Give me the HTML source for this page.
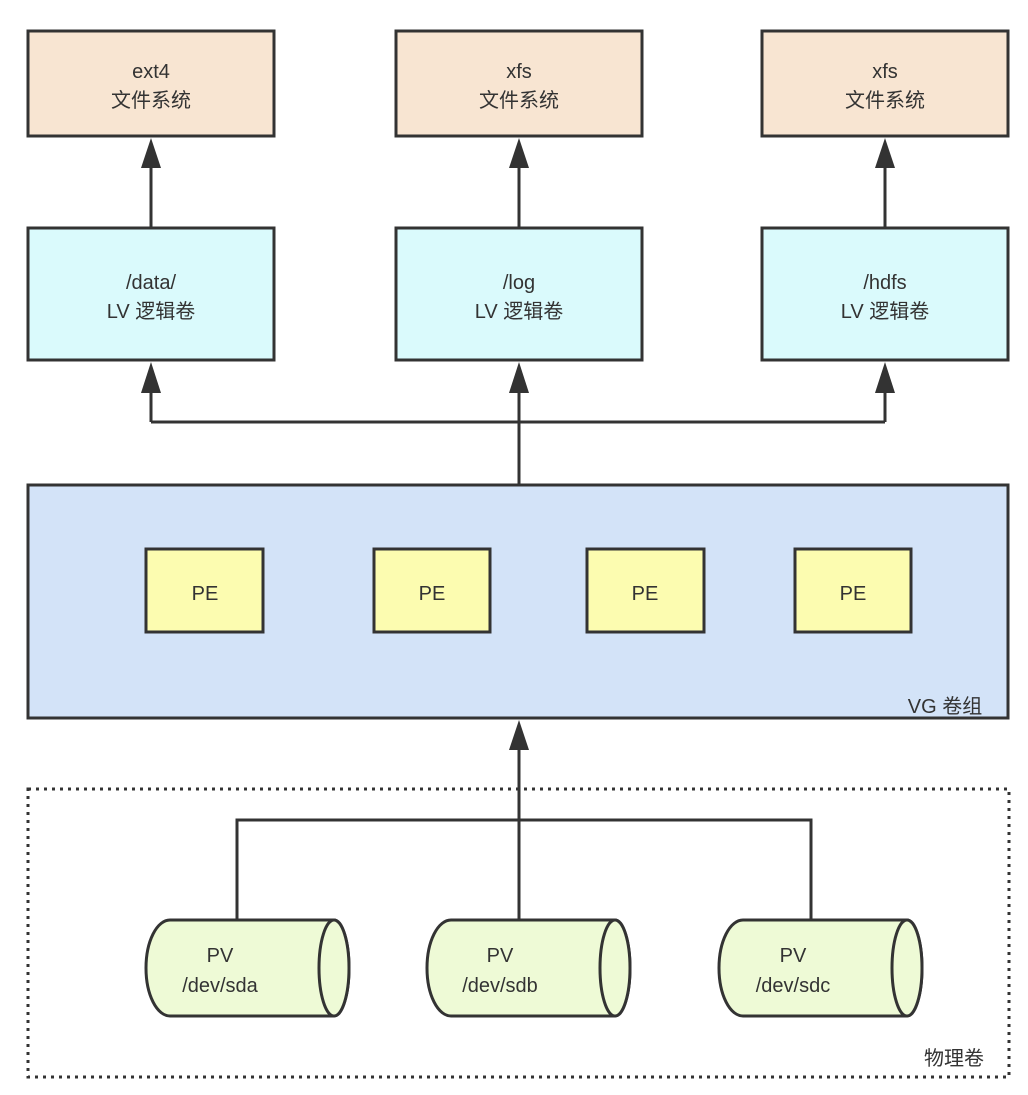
<!DOCTYPE html>
<html><head><meta charset="utf-8"><style>
body{margin:0;background:#fff}
svg text{font-family:"Liberation Sans","Noto Sans CJK SC",sans-serif;font-size:20px;fill:#333;text-anchor:middle}
</style></head><body>
<svg width="1028" height="1090" viewBox="0 0 1028 1090" xmlns="http://www.w3.org/2000/svg">
<defs><marker id="a" markerWidth="10" markerHeight="14" refX="5" refY="0" orient="auto-start-reverse" markerUnits="userSpaceOnUse" viewBox="0 0 10 14"></marker></defs>
<g stroke="#333" stroke-width="3">
<rect x="28" y="31" width="246" height="105" fill="#f8e5d2"/>
<rect x="396" y="31" width="246" height="105" fill="#f8e5d2"/>
<rect x="762" y="31" width="246" height="105" fill="#f8e5d2"/>
<rect x="28" y="228" width="246" height="132" fill="#dafafc"/>
<rect x="396" y="228" width="246" height="132" fill="#dafafc"/>
<rect x="762" y="228" width="246" height="132" fill="#dafafc"/>
<rect x="28" y="485" width="980" height="233" fill="#d3e3f8"/>
<rect x="146" y="549" width="117" height="83" fill="#fcfcb0"/>
<rect x="374" y="549" width="116" height="83" fill="#fcfcb0"/>
<rect x="587" y="549" width="117" height="83" fill="#fcfcb0"/>
<rect x="795" y="549" width="116" height="83" fill="#fcfcb0"/>
<rect x="28" y="789" width="981" height="288" fill="none" stroke-dasharray="3 5"/>
<path d="M151 227V165M519 227V165M885 227V165M151 422V390M519 422V390M885 422V390M151 422H885M519 485V422M519 920V748M237 920V820H811V920" fill="none"/>
<path d="M146 920h164a15 48 0 0 1 0 96h-164a24 48 0 0 1 0-96z" fill="#eefad6" transform="translate(24,0)"/>
<path d="M427 920h164a15 48 0 0 1 0 96h-164a24 48 0 0 1 0-96z" fill="#eefad6" transform="translate(24,0)"/>
<path d="M719 920h164a15 48 0 0 1 0 96h-164a24 48 0 0 1 0-96z" fill="#eefad6" transform="translate(24,0)"/>
<ellipse cx="334" cy="968" rx="15" ry="48" fill="#eefad6"/>
<ellipse cx="615" cy="968" rx="15" ry="48" fill="#eefad6"/>
<ellipse cx="907" cy="968" rx="15" ry="48" fill="#eefad6"/>
</g>
<g fill="#333">
<path d="M141 168L151 138L161 168Z"/><path d="M509 168L519 138L529 168Z"/><path d="M875 168L885 138L895 168Z"/>
<path d="M141 393L151 362L161 393Z"/><path d="M509 393L519 362L529 393Z"/><path d="M875 393L885 362L895 393Z"/>
<path d="M509 750L519 720L529 750Z"/>
</g>
<text x="151" y="78">ext4</text><text x="151" y="107">文件系统</text>
<text x="519" y="78">xfs</text><text x="519" y="107">文件系统</text>
<text x="885" y="78">xfs</text><text x="885" y="107">文件系统</text>
<text x="151" y="289">/data/</text><text x="151" y="318">LV 逻辑卷</text>
<text x="519" y="289">/log</text><text x="519" y="318">LV 逻辑卷</text>
<text x="885" y="289">/hdfs</text><text x="885" y="318">LV 逻辑卷</text>
<text x="205" y="600">PE</text><text x="432" y="600">PE</text><text x="645" y="600">PE</text><text x="853" y="600">PE</text>
<text x="945" y="713">VG 卷组</text>
<text x="220" y="962">PV</text><text x="220" y="992">/dev/sda</text>
<text x="500" y="962">PV</text><text x="500" y="992">/dev/sdb</text>
<text x="793" y="962">PV</text><text x="793" y="992">/dev/sdc</text>
<text x="954" y="1065">物理卷</text>
</svg>
</body></html>
